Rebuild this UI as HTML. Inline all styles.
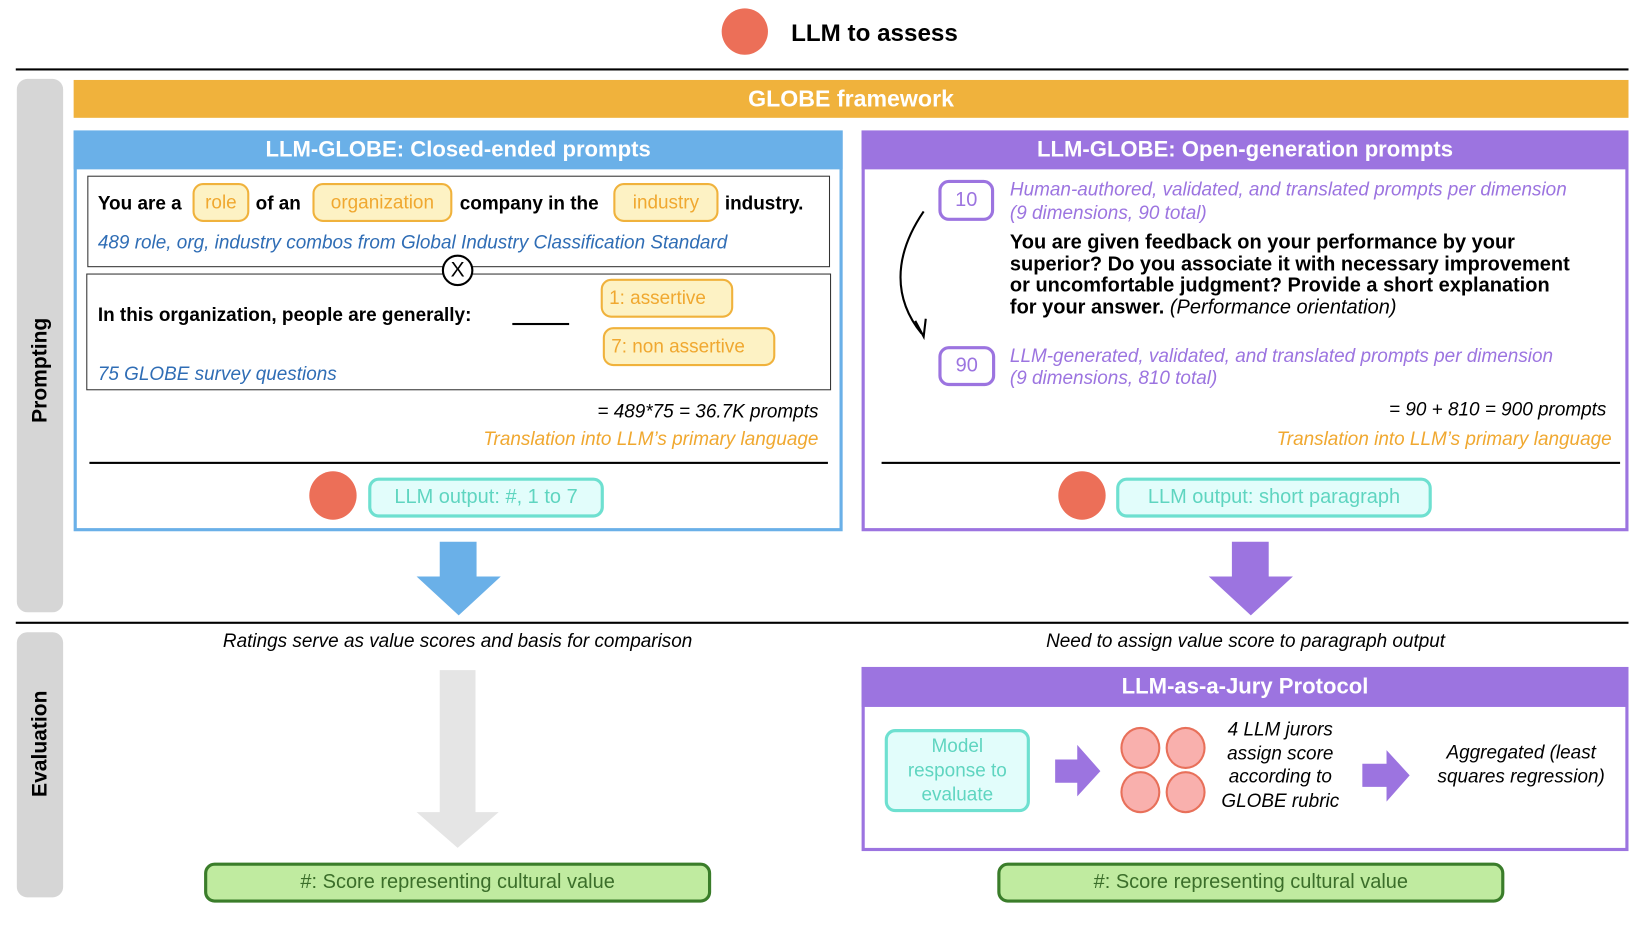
<!DOCTYPE html>
<html><head><meta charset="utf-8"><style>
html,body{margin:0;padding:0;background:#fff;}
body{width:1650px;height:930px;overflow:hidden;position:relative;font-family:"Liberation Sans",Arial,sans-serif;}
#s{position:absolute;left:0;top:0;width:1560px;height:879px;transform:scale(1.052);transform-origin:0 0;}
.a{position:absolute;}
.t{position:absolute;white-space:nowrap;line-height:1;}
.b{font-weight:bold;}
.i{font-style:italic;}
.pill{position:absolute;box-sizing:border-box;border:2px solid #f0b23c;background:#fdf2c4;border-radius:10px;color:#f0a830;font-size:18px;display:flex;align-items:center;justify-content:center;}
.teal{position:absolute;box-sizing:border-box;border:3px solid #6ee0d0;background:#e2fdfb;border-radius:10px;color:#5fd5c0;font-size:19px;display:flex;align-items:center;justify-content:center;}
.green{position:absolute;box-sizing:border-box;border:3px solid #3a7d2a;background:#c0eba0;border-radius:10px;color:#3b6e2a;font-size:19px;display:flex;align-items:center;justify-content:center;}
.num{position:absolute;box-sizing:border-box;border:3px solid #9c74e0;border-radius:10px;color:#9c74e0;font-size:19px;display:flex;align-items:center;justify-content:center;}
.red{position:absolute;background:#ec6f58;border-radius:50%;}
.hdr{position:absolute;color:#fff;font-weight:bold;font-size:21px;display:flex;align-items:center;justify-content:center;}
</style></head><body><div id="s">

<div class="red" style="left:686px;top:8px;width:44px;height:44px;"></div>
<div class="t b" style="left:752px;top:20px;font-size:23px;">LLM to assess</div>
<div class="a" style="left:15px;top:65px;width:1533px;height:2px;background:#000;"></div>

<div class="a" style="left:16px;top:75px;width:44px;height:507px;background:#d6d6d6;border-radius:10px;"></div>
<div class="t b" style="left:38px;top:352px;font-size:20px;transform:translate(-50%,-50%) rotate(-90deg);">Prompting</div>
<div class="a" style="left:16px;top:601px;width:44px;height:252px;background:#d6d6d6;border-radius:10px;"></div>
<div class="t b" style="left:38px;top:707px;font-size:20px;transform:translate(-50%,-50%) rotate(-90deg);">Evaluation</div>

<div class="hdr" style="left:70px;top:76px;width:1478px;height:36px;background:#f0b23c;font-size:22px;">GLOBE framework</div>

<!-- Blue box -->
<div class="a" style="left:70px;top:124px;width:731px;height:381px;box-sizing:border-box;border:3px solid #6ab0e8;"></div>
<div class="hdr" style="left:70px;top:124px;width:731px;height:37px;background:#6ab0e8;">LLM-GLOBE: Closed-ended prompts</div>

<div class="a" style="left:83px;top:167px;width:706px;height:87px;box-sizing:border-box;border:1px solid #333;"></div>
<div class="t b" style="left:93px;top:184px;font-size:18px;">You are a</div>
<div class="pill" style="left:183px;top:174px;width:54px;height:37px;">role</div>
<div class="t b" style="left:243px;top:184px;font-size:18px;">of an</div>
<div class="pill" style="left:297px;top:174px;width:133px;height:37px;">organization</div>
<div class="t b" style="left:437px;top:184px;font-size:18px;">company in the</div>
<div class="pill" style="left:583px;top:174px;width:100px;height:37px;">industry</div>
<div class="t b" style="left:689px;top:184px;font-size:18px;">industry.</div>
<div class="t i" style="left:93px;top:221px;font-size:18px;color:#2f6db5;">489 role, org, industry combos from Global Industry Classification Standard</div>

<div class="a" style="left:82px;top:260px;width:708px;height:111px;box-sizing:border-box;border:1px solid #333;"></div>
<div class="a" style="left:420px;top:242px;width:30px;height:30px;box-sizing:border-box;border:2px solid #000;border-radius:50%;background:#fff;display:flex;align-items:center;justify-content:center;font-size:20px;">X</div>
<div class="t b" style="left:93px;top:290px;font-size:18px;">In this organization, people are generally:</div>
<div class="a" style="left:487px;top:307px;width:54px;height:2px;background:#000;"></div>
<div class="pill" style="left:571px;top:265px;width:126px;height:37px;justify-content:flex-start;padding-left:6px;">1: assertive</div>
<div class="pill" style="left:573px;top:311px;width:164px;height:37px;justify-content:flex-start;padding-left:6px;">7: non assertive</div>
<div class="t i" style="left:93px;top:346px;font-size:18px;color:#2f6db5;">75 GLOBE survey questions</div>

<div class="t i" style="right:782px;top:382px;font-size:18px;">= 489*75 = 36.7K prompts</div>
<div class="t i" style="right:782px;top:408px;font-size:18px;color:#f0a830;">Translation into LLM’s primary language</div>
<div class="a" style="left:85px;top:439px;width:702px;height:2px;background:#000;"></div>
<div class="red" style="left:294px;top:448px;width:45px;height:46px;"></div>
<div class="teal" style="left:350px;top:454px;width:224px;height:38px;">LLM output: #, 1 to 7</div>

<!-- Purple box -->
<div class="a" style="left:819px;top:124px;width:729px;height:381px;box-sizing:border-box;border:3px solid #9c74e0;"></div>
<div class="hdr" style="left:819px;top:124px;width:729px;height:37px;background:#9c74e0;">LLM-GLOBE: Open-generation prompts</div>
<div class="num" style="left:892px;top:171px;width:53px;height:39px;">10</div>
<div class="t i" style="left:960px;top:171px;font-size:18px;color:#9c74e0;">Human-authored, validated, and translated prompts per dimension</div>
<div class="t i" style="left:960px;top:193px;font-size:18px;color:#9c74e0;">(9 dimensions, 90 total)</div>
<div class="a b" style="left:960px;top:221px;width:580px;font-size:19px;line-height:20.5px;">You are given feedback on your performance by your<br>superior? Do you associate it with necessary improvement<br>or uncomfortable judgment? Provide a short explanation<br>for your answer. <span style="font-weight:normal;font-style:italic;">(Performance orientation)</span></div>
<svg class="a" style="left:840px;top:195px;" width="50" height="135"><path d="M38 6 C 8 50, 10 90, 36 122" fill="none" stroke="#000" stroke-width="2"/><path d="M30 110 L38 125 L40 108" fill="none" stroke="#000" stroke-width="2"/></svg>
<div class="num" style="left:892px;top:329px;width:54px;height:38px;">90</div>
<div class="t i" style="left:960px;top:329px;font-size:18px;color:#9c74e0;">LLM-generated, validated, and translated prompts per dimension</div>
<div class="t i" style="left:960px;top:350px;font-size:18px;color:#9c74e0;">(9 dimensions, 810 total)</div>
<div class="t i" style="right:33px;top:380px;font-size:18px;">= 90 + 810 = 900 prompts</div>
<div class="t i" style="right:28px;top:408px;font-size:18px;color:#f0a830;">Translation into LLM’s primary language</div>
<div class="a" style="left:838px;top:439px;width:702px;height:2px;background:#000;"></div>
<div class="red" style="left:1006px;top:448px;width:45px;height:46px;"></div>
<div class="teal" style="left:1061px;top:454px;width:300px;height:38px;">LLM output: short paragraph</div>

<!-- Down arrows -->
<svg class="a" style="left:0;top:0;" width="1560" height="879">
<polygon points="418,515 453,515 453,548 476,548 436,585 396,548 418,548" fill="#6ab0e8"/>
<polygon points="1171,515 1206,515 1206,548 1229,548 1189,585 1149,548 1171,548" fill="#9c74e0"/>
<polygon points="418,637 452,637 452,772 474,772 435,806 396,772 418,772" fill="#e5e5e5"/>
<polygon points="1003,722 1024,722 1024,708 1046,733 1024,757 1024,744 1003,744" fill="#9c74e0"/>
<polygon points="1295,726 1318,726 1318,713 1340,737 1318,762 1318,748 1295,748" fill="#9c74e0"/>
</svg>

<div class="a" style="left:15px;top:591px;width:1533px;height:2px;background:#000;"></div>
<div class="t i" style="left:435px;top:600px;font-size:18px;transform:translateX(-50%);">Ratings serve as value scores and basis for comparison</div>
<div class="t i" style="left:1184px;top:600px;font-size:18px;transform:translateX(-50%);">Need to assign value score to paragraph output</div>

<div class="a" style="left:819px;top:634px;width:729px;height:175px;box-sizing:border-box;border:3px solid #9c74e0;"></div>
<div class="hdr" style="left:819px;top:634px;width:729px;height:38px;background:#9c74e0;">LLM-as-a-Jury Protocol</div>
<div class="teal" style="left:841px;top:693px;width:138px;height:79px;font-size:18px;line-height:23px;text-align:center;">Model<br>response to<br>evaluate</div>
<div class="a" style="left:1065px;top:691px;width:38px;height:40px;box-sizing:border-box;border:2px solid #e8705a;background:#f9b0ad;border-radius:50%;"></div>
<div class="a" style="left:1108px;top:691px;width:38px;height:40px;box-sizing:border-box;border:2px solid #e8705a;background:#f9b0ad;border-radius:50%;"></div>
<div class="a" style="left:1065px;top:733px;width:38px;height:40px;box-sizing:border-box;border:2px solid #e8705a;background:#f9b0ad;border-radius:50%;"></div>
<div class="a" style="left:1108px;top:733px;width:38px;height:40px;box-sizing:border-box;border:2px solid #e8705a;background:#f9b0ad;border-radius:50%;"></div>
<div class="a i" style="left:1147px;top:682px;width:140px;text-align:center;font-size:18px;line-height:22.5px;">4 LLM jurors<br>assign score<br>according to<br>GLOBE rubric</div>
<div class="a i" style="left:1346px;top:704px;width:200px;text-align:center;font-size:18px;line-height:23px;">Aggregated (least<br>squares regression)</div>

<div class="green" style="left:194px;top:820px;width:482px;height:38px;">#: Score representing cultural value</div>
<div class="green" style="left:948px;top:820px;width:482px;height:38px;">#: Score representing cultural value</div>
</div></body></html>
